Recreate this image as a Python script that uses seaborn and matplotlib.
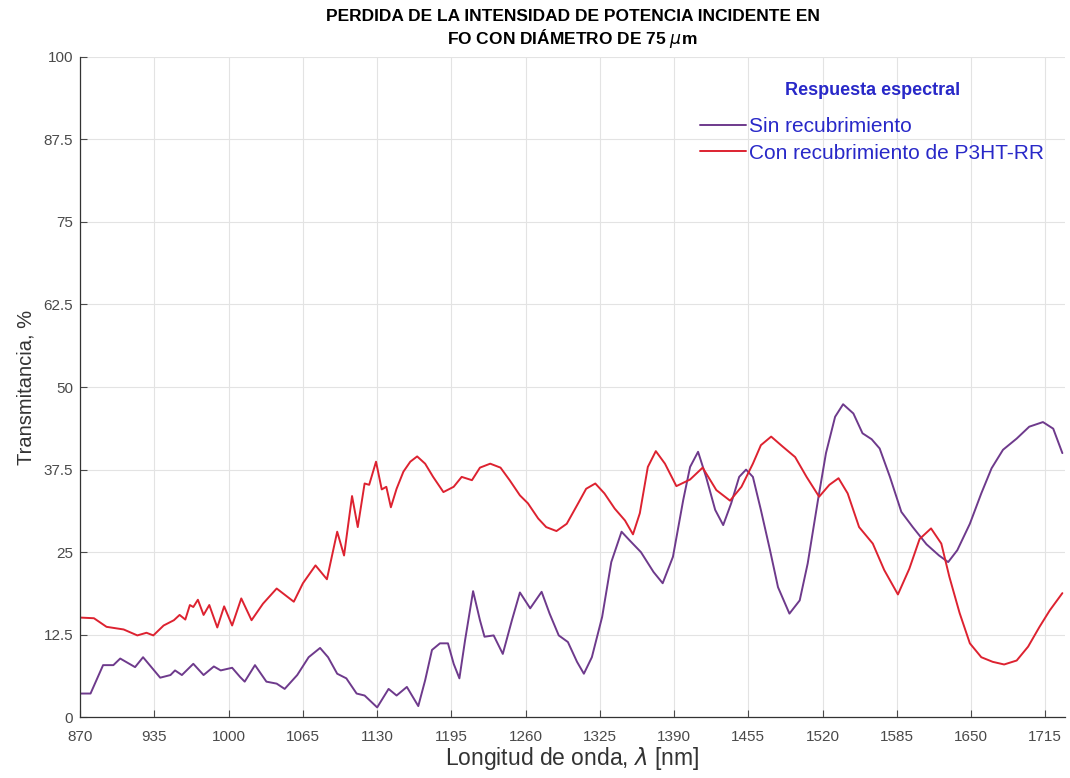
import pandas as pd
import matplotlib
matplotlib.use("Agg")
import matplotlib.pyplot as plt
import seaborn as sns

# Longitud de onda (nm) y transmitancia (%)
x_sin = [870, 879, 890, 899, 905, 918, 925, 940, 949, 953, 959, 969, 978, 987, 993,
         1003, 1010, 1014, 1023, 1033, 1042, 1049, 1060, 1070, 1080, 1087, 1095, 1103,
         1112, 1119, 1130, 1140, 1147, 1156, 1166, 1172, 1178, 1185, 1192, 1197, 1202,
         1207, 1214, 1220, 1224, 1232, 1240, 1248, 1255, 1264, 1274, 1281, 1289, 1297,
         1305, 1311, 1318, 1327, 1335, 1344, 1351, 1361, 1372, 1380, 1389, 1398, 1404,
         1411, 1418, 1426, 1433, 1440, 1447, 1453, 1459, 1466, 1474, 1481, 1491, 1500,
         1507, 1516, 1523, 1531, 1538, 1547, 1555, 1563, 1570, 1579, 1589, 1599, 1611,
         1622, 1630, 1638, 1649, 1659, 1668, 1678, 1690, 1701, 1713, 1722, 1730]
y_sin = [3.6, 3.6, 7.9, 7.9, 8.9, 7.6, 9.1, 6.0, 6.4, 7.1, 6.4, 8.1, 6.4, 7.7, 7.1,
         7.5, 6.1, 5.4, 7.9, 5.4, 5.1, 4.3, 6.4, 9.1, 10.5, 9.1, 6.6, 5.9,
         3.6, 3.3, 1.5, 4.3, 3.3, 4.6, 1.7, 5.6, 10.2, 11.2, 11.2, 8.1, 5.9,
         11.7, 19.1, 14.7, 12.2, 12.4, 9.6, 14.7, 18.9, 16.5, 19.0, 15.7, 12.4, 11.4,
         8.4, 6.6, 9.1, 15.2, 23.5, 28.1, 26.8, 25.0, 22.0, 20.3, 24.3, 32.9, 37.9,
         40.2, 36.4, 31.4, 29.1, 32.4, 36.4, 37.5, 36.4, 31.4, 25.3, 19.7, 15.7, 17.7,
         23.3, 32.9, 40.0, 45.5, 47.4, 46.0, 43.0, 42.1, 40.7, 36.4, 31.1, 28.8, 26.2,
         24.5, 23.5, 25.3, 29.3, 33.9, 37.7, 40.5, 42.2, 44.0, 44.7, 43.7, 40.0]

x_con = [870, 882, 893, 908, 920, 928, 934, 943, 952, 957, 962, 966, 969, 973, 978,
         983, 990, 996, 1003, 1011, 1020, 1030, 1042, 1057, 1065, 1076, 1086, 1095,
         1101, 1108, 1113, 1119, 1123, 1129, 1134, 1138, 1142, 1147, 1153, 1159, 1165,
         1172, 1179, 1188, 1197, 1204, 1213, 1220, 1229, 1238, 1246, 1255, 1262, 1271,
         1278, 1287, 1296, 1306, 1313, 1321, 1329, 1338, 1347, 1354, 1360, 1367, 1374,
         1382, 1392, 1404, 1415, 1427, 1439, 1449, 1459, 1466, 1475, 1485, 1496, 1506,
         1517, 1526, 1534, 1542, 1552, 1564, 1574, 1586, 1596, 1605, 1615, 1624, 1631,
         1640, 1649, 1659, 1669, 1679, 1690, 1700, 1710, 1719, 1730]
y_con = [15.1, 15.0, 13.7, 13.3, 12.4, 12.8, 12.4, 13.9, 14.7, 15.5, 14.8, 17.0, 16.7, 17.8, 15.5,
         17.0, 13.6, 16.8, 13.9, 18.0, 14.7, 17.2, 19.5, 17.5, 20.3, 23.0, 20.9, 28.1,
         24.5, 33.5, 28.8, 35.4, 35.2, 38.7, 34.5, 34.9, 31.8, 34.6, 37.2, 38.7, 39.5,
         38.4, 36.4, 34.1, 34.9, 36.4, 35.9, 37.8, 38.4, 37.8, 35.9, 33.6, 32.4, 30.1,
         28.8, 28.2, 29.3, 32.4, 34.6, 35.4, 33.9, 31.6, 29.8, 27.7, 30.9, 37.9, 40.3,
         38.4, 35.0, 36.0, 37.8, 34.4, 32.8, 34.9, 38.4, 41.2, 42.5, 41.0, 39.4, 36.4,
         33.4, 35.2, 36.2, 33.9, 28.8, 26.3, 22.3, 18.6, 22.5, 27.0, 28.6, 26.3, 21.3,
         15.8, 11.2, 9.1, 8.4, 8.0, 8.6, 10.7, 13.7, 16.2, 18.8]

x_ticks = [870, 935, 1000, 1065, 1130, 1195, 1260, 1325, 1390, 1455, 1520, 1585, 1650, 1715]
y_ticks = [0, 12.5, 25, 37.5, 50, 62.5, 75, 87.5, 100]
y_labels = ["0", "12.5", "25", "37.5", "50", "62.5", "75", "87.5", "100"]

df_sin = pd.DataFrame({"lambda": x_sin, "T": y_sin})
df_con = pd.DataFrame({"lambda": x_con, "T": y_con})

sns.set_theme(style="whitegrid")
plt.rcParams["font.family"] = ["Liberation Sans", "DejaVu Sans"]
plt.rcParams["mathtext.fontset"] = "dejavusans"

fig = plt.figure(figsize=(10.7, 7.78), dpi=100)
ax = fig.add_axes([0.075, 0.078, 0.92, 0.849])

sns.lineplot(data=df_sin, x="lambda", y="T", ax=ax, color="#6E3A8C", lw=1.4,
             label="Sin recubrimiento")
sns.lineplot(data=df_con, x="lambda", y="T", ax=ax, color="#DD2230", lw=1.4,
             label="Con recubrimiento de P3HT-RR")

ax.set_xlim(870, 1732)
ax.set_ylim(0, 100)
ax.set_xticks(x_ticks)
ax.set_yticks(y_ticks)
ax.set_yticklabels(y_labels)
ax.tick_params(axis="both", labelsize=11, colors="#4a4a4a", direction="in",
               length=5, width=0.8, bottom=True, left=True)
ax.tick_params(axis="x", pad=9)
ax.tick_params(axis="y", pad=5)
ax.grid(True, color="#E3E3E3", lw=0.8)
for s in ["top", "right"]:
    ax.spines[s].set_visible(False)
for s in ["left", "bottom"]:
    ax.spines[s].set_color("#333333")
    ax.spines[s].set_linewidth(0.9)

ax.set_xlabel(r"Longitud de onda, $\lambda$ [nm]", fontsize=16.5, color="#333333",
              labelpad=1)
ax.set_ylabel("Transmitancia, %", fontsize=14.5, color="#333333", labelpad=6)
ax.set_title("PERDIDA DE LA INTENSIDAD DE POTENCIA INCIDENTE EN\n"
             r"FO CON DIÁMETRO DE 75 $\mu$m",
             fontsize=12.5, fontweight="bold", color="black", pad=9)

leg = ax.legend(title="Respuesta espectral", loc="upper right",
                bbox_to_anchor=(0.99, 0.977), frameon=False, fontsize=15,
                title_fontproperties={"weight": "bold", "size": 13},
                alignment="center", handlelength=2.2, handletextpad=0.15,
                labelspacing=0.35, borderpad=0)
# separación extra entre el título de la leyenda y sus entradas
leg._legend_box.sep = 13
leg.get_title().set_color("#2828C8")
for t in leg.get_texts():
    t.set_color("#2828C8")

fig.savefig("out.png", dpi=100)
